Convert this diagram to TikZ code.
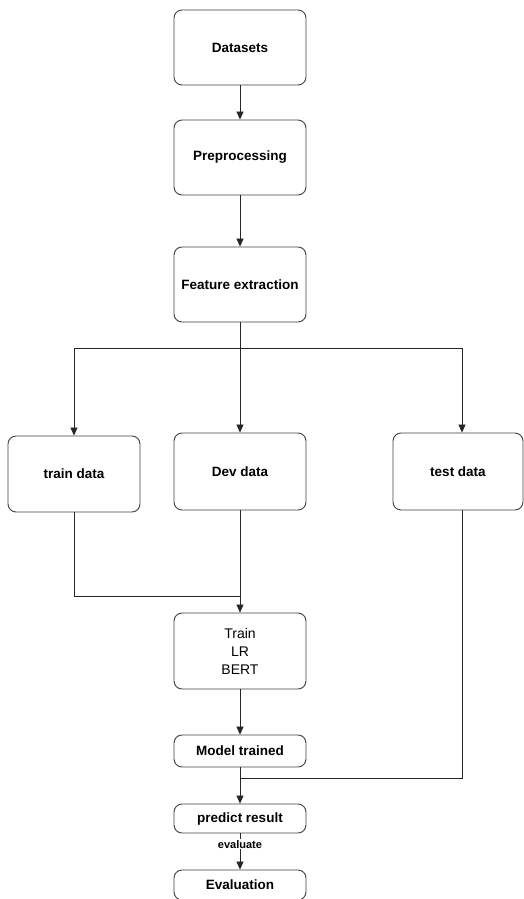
\documentclass[tikz,border=0pt]{standalone}
\usepackage{fontspec}
\setmainfont{Liberation Sans}
\usetikzlibrary{arrows.meta}
\tikzset{
  box/.style={draw=black!75, line width=0.9pt, rounded corners=8pt, minimum width=132pt, align=center,
    font=\fontsize{13.5}{17}\selectfont\bfseries, inner sep=0pt},
  arr/.style={-{Triangle[length=8pt,width=7pt]}, draw=black!85, line width=0.8pt},
  wire/.style={draw=black!85, line width=0.8pt}
}
\begin{document}
\begin{tikzpicture}[x=1pt,y=-1pt]
    \useasboundingbox (0,0) rectangle (524,899);
    \node[box, minimum height=75pt] (data) at (240,47.5) {Datasets};
    \node[box, minimum height=75pt] (prep) at (240,157.5) {Preprocessing};
    \node[box, minimum height=75pt] (feat) at (240,284.5) {Feature extraction};
    \node[box, minimum height=76pt] (train) at (74,474) {train data};
    \node[box, minimum height=77pt] (dev) at (240,471.5) {Dev data};
    \node[box, minimum height=77pt, minimum width=130pt] (test) at (458,471.5) {test data};
    \node[box, minimum height=76pt, font=\fontsize{14}{18}\selectfont] (model) at (240,651) {Train\\LR\\BERT};
    \node[box, minimum height=32pt] (trained) at (240,751) {Model trained};
    \node[box, minimum height=29pt] (predict) at (240,818.5) {predict result};
    \node[box, minimum height=30pt] (eval) at (240,885) {Evaluation};
    \coordinate (split) at (240,348);
    \coordinate (join) at (240,596);
    \coordinate (merge) at (240,778);
    \draw[arr] (data) -- (prep);
    \draw[arr] (prep) -- (feat);
    \draw[arr] (feat.south) -- (split) -| (train.north);
    \draw[arr] (split) -| ([xshift=4pt]test.north);
    \draw[arr] (split) -- (dev.north);
    \draw[wire] (train.south) |- (join);
    \draw[arr] (dev.south) -- (model.north);
    \draw[arr] (model) -- (trained);
    \draw[wire] ([xshift=4pt]test.south) |- (merge);
    \draw[arr] (trained) -- (predict);
    \draw[arr] (predict) -- (eval) node[pos=0.3, fill=white, inner sep=1pt,
      font=\fontsize{11}{13}\selectfont\bfseries] (evallbl) {evaluate};
  \end{tikzpicture}
\end{document}
